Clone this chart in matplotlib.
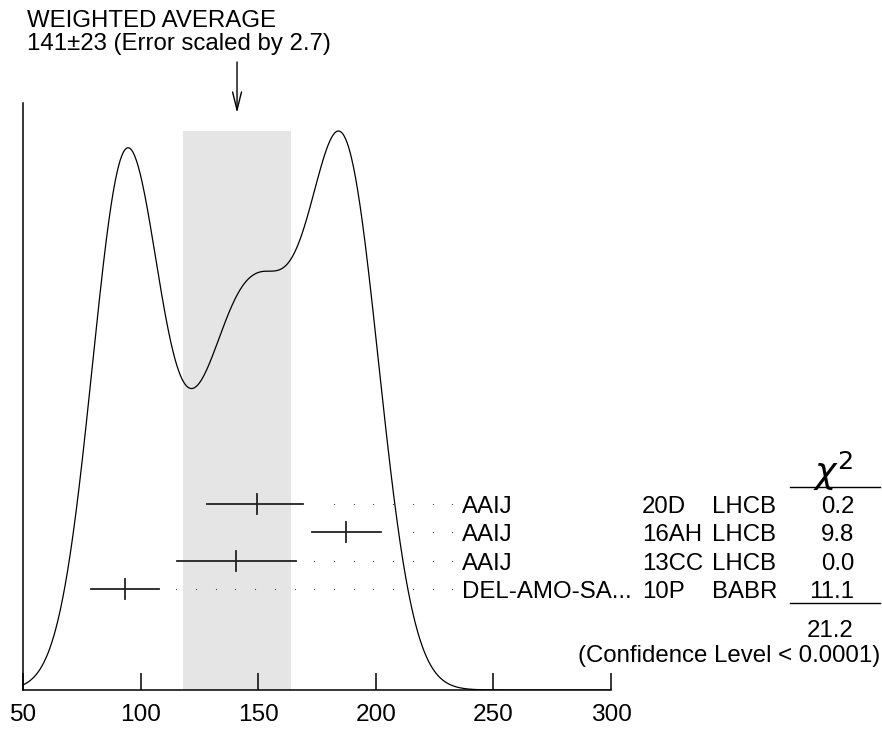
import numpy as np
import matplotlib
matplotlib.use("Agg")
import matplotlib.pyplot as plt
from matplotlib.lines import Line2D
from matplotlib.transforms import blended_transform_factory

plt.rcParams['font.family'] = ['Liberation Sans', 'DejaVu Sans']

# measurements (value, lower error, upper error)
authors = ["AAIJ", "AAIJ", "AAIJ", "DEL-AMO-SA..."]
docs = ["20D", "16AH", "13CC", "10P"]
expts = ["LHCB", "LHCB", "LHCB", "BABR"]
values = [149.6, 187.5, 140.6, 93.3]
err_lo = [21.4, 14.8, 25.2, 14.2]
err_hi = [19.6, 14.6, 25.6, 14.5]
chi2 = ["0.2", "9.8", "0.0", "11.1"]
chi2_total = "21.2"
avg, avg_err, scale = 141, 23, 2.7
cl_text = "(Confidence Level < 0.0001)"
xticks = [50, 100, 150, 200, 250, 300]

W, H = 882, 729
fig = plt.figure(figsize=(W / 100, H / 100), dpi=100)
# axes in pixel-like units: y = pixels above the baseline
ax = fig.add_axes([23 / W, 39 / H, 588 / W, 587 / H])
ax.set_xlim(50, 300)
ax.set_ylim(0, 587)
for s in ["top", "right"]:
    ax.spines[s].set_visible(False)
for s in ["left", "bottom"]:
    ax.spines[s].set_linewidth(1.1)
ax.set_yticks([])
ax.set_xticks(xticks)
ax.set_xticklabels([str(t) for t in xticks])
ax.tick_params(axis="x", direction="in", length=12, width=1.1, pad=10,
               labelsize=17.6)

# ideogram: each measurement a gaussian with area ~ 1/sigma
xs = np.linspace(50, 300, 1200)
ys = np.zeros_like(xs)
for v, lo, hi in zip(values, err_lo, err_hi):
    sig = np.where(xs < v, lo, hi)
    s_avg = 0.5 * (lo + hi)
    ys += np.exp(-0.5 * ((xs - v) / sig) ** 2) / s_avg ** 2
peak = 559
ys = ys / ys.max() * peak

ax.fill_between([avg - avg_err, avg + avg_err], 0, peak, color="#e5e5e5",
                lw=0, zorder=0)
ax.plot(xs, ys, color="k", lw=0.9, zorder=3)

# error bars with dotted leaders
row_y = [186, 158, 129, 101]
dot_grid = 232.5 - 8.38 * np.arange(30)
for v, lo, hi, y in zip(values, err_lo, err_hi, row_y):
    ax.plot([v - lo, v + hi], [y, y], color="#222222", lw=1.3, zorder=4)
    ax.plot([v, v], [y - 10, y + 10], color="#222222", lw=1.3, zorder=4)
    d = dot_grid[dot_grid > v + hi + 6.5]
    ax.plot(d, np.full_like(d, y), ls="none", marker="s", ms=0.8, mew=0,
            color="#444444", zorder=4)

# arrow at weighted average
ax.annotate("", xy=(avg, 690 - 113), xytext=(avg, 690 - 62),
            arrowprops=dict(arrowstyle="->,head_length=1.3,head_width=0.32",
                            lw=1.0, color="k", shrinkA=0, shrinkB=0),
            annotation_clip=False)

fs = 17.3
fig.text(27 / W, 1 - 27 / H, "WEIGHTED AVERAGE", fontsize=fs, va="baseline")
fig.text(27 / W, 1 - 50 / H, f"{avg}\u00b1{avg_err} (Error scaled by {scale})",
         fontsize=fs, va="baseline")

tr = blended_transform_factory(fig.transFigure, ax.transData)
for a, d, e, c, y in zip(authors, docs, expts, chi2, row_y):
    yb = y - 9
    ax.text(461.7 / W, yb, a, transform=tr, fontsize=fs, va="baseline")
    ax.text(642 / W, yb, d, transform=tr, fontsize=fs, va="baseline")
    ax.text(712 / W, yb, e, transform=tr, fontsize=fs, va="baseline")
    ax.text(854 / W, yb, c, transform=tr, fontsize=fs, va="baseline",
            ha="right")

fig.text(833 / W, 1 - 484 / H, r"$\chi^2$", fontsize=26, ha="center",
         va="baseline")
fig.add_artist(Line2D([790 / W, 880 / W], [1 - 487 / H] * 2, lw=1, color="k"))
fig.add_artist(Line2D([790 / W, 880 / W], [1 - 603 / H] * 2, lw=1, color="k"))
fig.text(854 / W, 1 - 637 / H, chi2_total, fontsize=fs, ha="right",
         va="baseline")
fig.text(880 / W, 1 - 662 / H, cl_text, fontsize=fs, ha="right", va="baseline")

fig.savefig("out.png", dpi=100)
